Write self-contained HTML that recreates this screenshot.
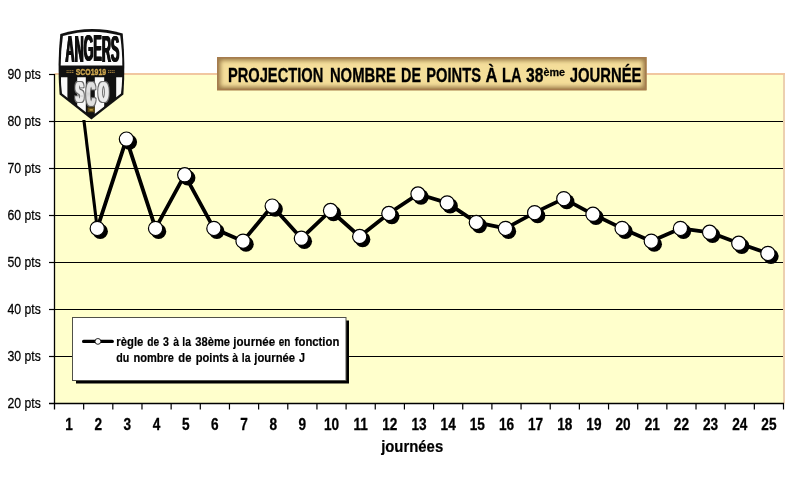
<!DOCTYPE html>
<html lang="fr"><head><meta charset="utf-8"><title>Projection nombre de points à la 38ème journée</title>
<style>html,body{margin:0;padding:0;background:#fff}body{width:788px;height:480px;overflow:hidden}svg{display:block}text{white-space:pre}</style>
</head><body>
<svg width="788" height="480" viewBox="0 0 788 480" font-family="'Liberation Sans', sans-serif">
<rect width="788" height="480" fill="#fff"/>
<rect x="54.5" y="73.00" width="730.50" height="330.50" fill="#ffffcc"/>
<rect x="54.5" y="73.00" width="730.50" height="2" fill="#f1c7a0"/>
<rect x="783.00" y="75.00" width="2" height="328.50" fill="#ecd0b0"/>
<line x1="54.5" x2="783.00" y1="356.50" y2="356.50" stroke="#000" stroke-width="1"/>
<line x1="54.5" x2="783.00" y1="309.50" y2="309.50" stroke="#000" stroke-width="1"/>
<line x1="54.5" x2="783.00" y1="262.50" y2="262.50" stroke="#000" stroke-width="1"/>
<line x1="54.5" x2="783.00" y1="215.50" y2="215.50" stroke="#000" stroke-width="1"/>
<line x1="54.5" x2="783.00" y1="168.50" y2="168.50" stroke="#000" stroke-width="1"/>
<line x1="54.5" x2="783.00" y1="121.50" y2="121.50" stroke="#000" stroke-width="1"/>
<line x1="54.5" x2="54.5" y1="74.00" y2="409.50" stroke="#000" stroke-width="1.3"/>
<line x1="49.0" x2="784.00" y1="403.5" y2="403.5" stroke="#000" stroke-width="1.3"/>
<line x1="49.0" x2="54.5" y1="356.50" y2="356.50" stroke="#000" stroke-width="1.2"/>
<line x1="49.0" x2="54.5" y1="309.50" y2="309.50" stroke="#000" stroke-width="1.2"/>
<line x1="49.0" x2="54.5" y1="262.50" y2="262.50" stroke="#000" stroke-width="1.2"/>
<line x1="49.0" x2="54.5" y1="215.50" y2="215.50" stroke="#000" stroke-width="1.2"/>
<line x1="49.0" x2="54.5" y1="168.50" y2="168.50" stroke="#000" stroke-width="1.2"/>
<line x1="49.0" x2="54.5" y1="121.50" y2="121.50" stroke="#000" stroke-width="1.2"/>
<line x1="49.0" x2="54.5" y1="74.50" y2="74.50" stroke="#000" stroke-width="1.2"/>
<line x1="83.66" x2="83.66" y1="403.5" y2="409.5" stroke="#000" stroke-width="1.2"/>
<line x1="112.82" x2="112.82" y1="403.5" y2="409.5" stroke="#000" stroke-width="1.2"/>
<line x1="141.98" x2="141.98" y1="403.5" y2="409.5" stroke="#000" stroke-width="1.2"/>
<line x1="171.14" x2="171.14" y1="403.5" y2="409.5" stroke="#000" stroke-width="1.2"/>
<line x1="200.30" x2="200.30" y1="403.5" y2="409.5" stroke="#000" stroke-width="1.2"/>
<line x1="229.46" x2="229.46" y1="403.5" y2="409.5" stroke="#000" stroke-width="1.2"/>
<line x1="258.62" x2="258.62" y1="403.5" y2="409.5" stroke="#000" stroke-width="1.2"/>
<line x1="287.78" x2="287.78" y1="403.5" y2="409.5" stroke="#000" stroke-width="1.2"/>
<line x1="316.94" x2="316.94" y1="403.5" y2="409.5" stroke="#000" stroke-width="1.2"/>
<line x1="346.10" x2="346.10" y1="403.5" y2="409.5" stroke="#000" stroke-width="1.2"/>
<line x1="375.26" x2="375.26" y1="403.5" y2="409.5" stroke="#000" stroke-width="1.2"/>
<line x1="404.42" x2="404.42" y1="403.5" y2="409.5" stroke="#000" stroke-width="1.2"/>
<line x1="433.58" x2="433.58" y1="403.5" y2="409.5" stroke="#000" stroke-width="1.2"/>
<line x1="462.74" x2="462.74" y1="403.5" y2="409.5" stroke="#000" stroke-width="1.2"/>
<line x1="491.90" x2="491.90" y1="403.5" y2="409.5" stroke="#000" stroke-width="1.2"/>
<line x1="521.06" x2="521.06" y1="403.5" y2="409.5" stroke="#000" stroke-width="1.2"/>
<line x1="550.22" x2="550.22" y1="403.5" y2="409.5" stroke="#000" stroke-width="1.2"/>
<line x1="579.38" x2="579.38" y1="403.5" y2="409.5" stroke="#000" stroke-width="1.2"/>
<line x1="608.54" x2="608.54" y1="403.5" y2="409.5" stroke="#000" stroke-width="1.2"/>
<line x1="637.70" x2="637.70" y1="403.5" y2="409.5" stroke="#000" stroke-width="1.2"/>
<line x1="666.86" x2="666.86" y1="403.5" y2="409.5" stroke="#000" stroke-width="1.2"/>
<line x1="696.02" x2="696.02" y1="403.5" y2="409.5" stroke="#000" stroke-width="1.2"/>
<line x1="725.18" x2="725.18" y1="403.5" y2="409.5" stroke="#000" stroke-width="1.2"/>
<line x1="754.34" x2="754.34" y1="403.5" y2="409.5" stroke="#000" stroke-width="1.2"/>
<line x1="783.50" x2="783.50" y1="403.5" y2="409.5" stroke="#000" stroke-width="1.2"/>
<g font-size="15.1" font-weight="normal" fill="#000" stroke="#000" stroke-width="0.25"><text transform="translate(7.50,408.40) scale(0.8132,1)">20 </text><text transform="translate(24.60,408.40) scale(0.8063,1)">pts</text></g>
<g font-size="15.1" font-weight="normal" fill="#000" stroke="#000" stroke-width="0.25"><text transform="translate(7.50,361.40) scale(0.8132,1)">30 </text><text transform="translate(24.60,361.40) scale(0.8063,1)">pts</text></g>
<g font-size="15.1" font-weight="normal" fill="#000" stroke="#000" stroke-width="0.25"><text transform="translate(7.50,314.40) scale(0.8132,1)">40 </text><text transform="translate(24.60,314.40) scale(0.8063,1)">pts</text></g>
<g font-size="15.1" font-weight="normal" fill="#000" stroke="#000" stroke-width="0.25"><text transform="translate(7.50,267.40) scale(0.8132,1)">50 </text><text transform="translate(24.60,267.40) scale(0.8063,1)">pts</text></g>
<g font-size="15.1" font-weight="normal" fill="#000" stroke="#000" stroke-width="0.25"><text transform="translate(7.50,220.40) scale(0.8132,1)">60 </text><text transform="translate(24.60,220.40) scale(0.8063,1)">pts</text></g>
<g font-size="15.1" font-weight="normal" fill="#000" stroke="#000" stroke-width="0.25"><text transform="translate(7.50,173.40) scale(0.8132,1)">70 </text><text transform="translate(24.60,173.40) scale(0.8063,1)">pts</text></g>
<g font-size="15.1" font-weight="normal" fill="#000" stroke="#000" stroke-width="0.25"><text transform="translate(7.50,126.40) scale(0.8132,1)">80 </text><text transform="translate(24.60,126.40) scale(0.8063,1)">pts</text></g>
<g font-size="15.1" font-weight="normal" fill="#000" stroke="#000" stroke-width="0.25"><text transform="translate(7.50,79.40) scale(0.8132,1)">90 </text><text transform="translate(24.60,79.40) scale(0.8063,1)">pts</text></g>
<text transform="translate(65.29,430.20) scale(0.8300,1)" font-size="16.4" font-weight="bold" fill="#000" stroke="#000" stroke-width="0.3">1</text>
<text transform="translate(94.45,430.20) scale(0.8300,1)" font-size="16.4" font-weight="bold" fill="#000" stroke="#000" stroke-width="0.3">2</text>
<text transform="translate(123.61,430.20) scale(0.8300,1)" font-size="16.4" font-weight="bold" fill="#000" stroke="#000" stroke-width="0.3">3</text>
<text transform="translate(152.77,430.20) scale(0.8300,1)" font-size="16.4" font-weight="bold" fill="#000" stroke="#000" stroke-width="0.3">4</text>
<text transform="translate(181.93,430.20) scale(0.8300,1)" font-size="16.4" font-weight="bold" fill="#000" stroke="#000" stroke-width="0.3">5</text>
<text transform="translate(211.09,430.20) scale(0.8300,1)" font-size="16.4" font-weight="bold" fill="#000" stroke="#000" stroke-width="0.3">6</text>
<text transform="translate(240.25,430.20) scale(0.8300,1)" font-size="16.4" font-weight="bold" fill="#000" stroke="#000" stroke-width="0.3">7</text>
<text transform="translate(269.41,430.20) scale(0.8300,1)" font-size="16.4" font-weight="bold" fill="#000" stroke="#000" stroke-width="0.3">8</text>
<text transform="translate(298.57,430.20) scale(0.8300,1)" font-size="16.4" font-weight="bold" fill="#000" stroke="#000" stroke-width="0.3">9</text>
<text transform="translate(323.93,430.20) scale(0.8300,1)" font-size="16.4" font-weight="bold" fill="#000" stroke="#000" stroke-width="0.3">10</text>
<text transform="translate(353.51,430.20) scale(0.8300,1)" font-size="16.4" font-weight="bold" fill="#000" stroke="#000" stroke-width="0.3">11</text>
<text transform="translate(382.25,430.20) scale(0.8300,1)" font-size="16.4" font-weight="bold" fill="#000" stroke="#000" stroke-width="0.3">12</text>
<text transform="translate(411.41,430.20) scale(0.8300,1)" font-size="16.4" font-weight="bold" fill="#000" stroke="#000" stroke-width="0.3">13</text>
<text transform="translate(440.57,430.20) scale(0.8300,1)" font-size="16.4" font-weight="bold" fill="#000" stroke="#000" stroke-width="0.3">14</text>
<text transform="translate(469.73,430.20) scale(0.8300,1)" font-size="16.4" font-weight="bold" fill="#000" stroke="#000" stroke-width="0.3">15</text>
<text transform="translate(498.89,430.20) scale(0.8300,1)" font-size="16.4" font-weight="bold" fill="#000" stroke="#000" stroke-width="0.3">16</text>
<text transform="translate(528.05,430.20) scale(0.8300,1)" font-size="16.4" font-weight="bold" fill="#000" stroke="#000" stroke-width="0.3">17</text>
<text transform="translate(557.21,430.20) scale(0.8300,1)" font-size="16.4" font-weight="bold" fill="#000" stroke="#000" stroke-width="0.3">18</text>
<text transform="translate(586.37,430.20) scale(0.8300,1)" font-size="16.4" font-weight="bold" fill="#000" stroke="#000" stroke-width="0.3">19</text>
<text transform="translate(615.53,430.20) scale(0.8300,1)" font-size="16.4" font-weight="bold" fill="#000" stroke="#000" stroke-width="0.3">20</text>
<text transform="translate(644.69,430.20) scale(0.8300,1)" font-size="16.4" font-weight="bold" fill="#000" stroke="#000" stroke-width="0.3">21</text>
<text transform="translate(673.85,430.20) scale(0.8300,1)" font-size="16.4" font-weight="bold" fill="#000" stroke="#000" stroke-width="0.3">22</text>
<text transform="translate(703.01,430.20) scale(0.8300,1)" font-size="16.4" font-weight="bold" fill="#000" stroke="#000" stroke-width="0.3">23</text>
<text transform="translate(732.17,430.20) scale(0.8300,1)" font-size="16.4" font-weight="bold" fill="#000" stroke="#000" stroke-width="0.3">24</text>
<text transform="translate(761.33,430.20) scale(0.8300,1)" font-size="16.4" font-weight="bold" fill="#000" stroke="#000" stroke-width="0.3">25</text>
<text transform="translate(381.14,452.00) scale(0.9079,1)" font-size="16.4" font-weight="bold" fill="#000" stroke="#000" stroke-width="0.2">journées</text>
<clipPath id="cp"><rect x="54.5" y="120" width="733.00" height="283.5"/></clipPath>
<g clip-path="url(#cp)">
<g transform="translate(3,3)">
<circle cx="97.24" cy="228.40" r="7.7" fill="#000"/>
<circle cx="126.40" cy="139.10" r="7.7" fill="#000"/>
<circle cx="155.56" cy="228.40" r="7.7" fill="#000"/>
<circle cx="184.72" cy="174.82" r="7.7" fill="#000"/>
<circle cx="213.88" cy="228.40" r="7.7" fill="#000"/>
<circle cx="243.04" cy="241.16" r="7.7" fill="#000"/>
<circle cx="272.20" cy="206.08" r="7.7" fill="#000"/>
<circle cx="301.36" cy="238.32" r="7.7" fill="#000"/>
<circle cx="330.52" cy="210.54" r="7.7" fill="#000"/>
<circle cx="359.68" cy="236.52" r="7.7" fill="#000"/>
<circle cx="388.84" cy="213.52" r="7.7" fill="#000"/>
<circle cx="418.00" cy="194.05" r="7.7" fill="#000"/>
<circle cx="447.16" cy="202.89" r="7.7" fill="#000"/>
<circle cx="476.32" cy="222.45" r="7.7" fill="#000"/>
<circle cx="505.48" cy="228.40" r="7.7" fill="#000"/>
<circle cx="534.64" cy="212.64" r="7.7" fill="#000"/>
<circle cx="563.80" cy="198.63" r="7.7" fill="#000"/>
<circle cx="592.96" cy="214.30" r="7.7" fill="#000"/>
<circle cx="622.12" cy="228.40" r="7.7" fill="#000"/>
<circle cx="651.28" cy="241.16" r="7.7" fill="#000"/>
<circle cx="680.44" cy="228.40" r="7.7" fill="#000"/>
<circle cx="709.60" cy="232.28" r="7.7" fill="#000"/>
<circle cx="738.76" cy="243.28" r="7.7" fill="#000"/>
<circle cx="767.92" cy="253.40" r="7.7" fill="#000"/>
</g>
<path d="M97.24,228.40 L126.40,139.10 L155.56,228.40 L184.72,174.82 L213.88,228.40 L243.04,241.16 L272.20,206.08 L301.36,238.32 L330.52,210.54 L359.68,236.52 L388.84,213.52 L418.00,194.05 L447.16,202.89 L476.32,222.45 L505.48,228.40 L534.64,212.64 L563.80,198.63 L592.96,214.30 L622.12,228.40 L651.28,241.16 L680.44,228.40 L709.60,232.28 L738.76,243.28 L767.92,253.40" fill="none" stroke="#000" stroke-width="3.8" stroke-linejoin="round"/>
<path d="M67.78,-10.71 L97.24,228.40" fill="none" stroke="#000" stroke-width="3.1"/>
<circle cx="97.24" cy="228.40" r="7.1" fill="#fff" stroke="#000" stroke-width="1.2"/>
<circle cx="126.40" cy="139.10" r="7.1" fill="#fff" stroke="#000" stroke-width="1.2"/>
<circle cx="155.56" cy="228.40" r="7.1" fill="#fff" stroke="#000" stroke-width="1.2"/>
<circle cx="184.72" cy="174.82" r="7.1" fill="#fff" stroke="#000" stroke-width="1.2"/>
<circle cx="213.88" cy="228.40" r="7.1" fill="#fff" stroke="#000" stroke-width="1.2"/>
<circle cx="243.04" cy="241.16" r="7.1" fill="#fff" stroke="#000" stroke-width="1.2"/>
<circle cx="272.20" cy="206.08" r="7.1" fill="#fff" stroke="#000" stroke-width="1.2"/>
<circle cx="301.36" cy="238.32" r="7.1" fill="#fff" stroke="#000" stroke-width="1.2"/>
<circle cx="330.52" cy="210.54" r="7.1" fill="#fff" stroke="#000" stroke-width="1.2"/>
<circle cx="359.68" cy="236.52" r="7.1" fill="#fff" stroke="#000" stroke-width="1.2"/>
<circle cx="388.84" cy="213.52" r="7.1" fill="#fff" stroke="#000" stroke-width="1.2"/>
<circle cx="418.00" cy="194.05" r="7.1" fill="#fff" stroke="#000" stroke-width="1.2"/>
<circle cx="447.16" cy="202.89" r="7.1" fill="#fff" stroke="#000" stroke-width="1.2"/>
<circle cx="476.32" cy="222.45" r="7.1" fill="#fff" stroke="#000" stroke-width="1.2"/>
<circle cx="505.48" cy="228.40" r="7.1" fill="#fff" stroke="#000" stroke-width="1.2"/>
<circle cx="534.64" cy="212.64" r="7.1" fill="#fff" stroke="#000" stroke-width="1.2"/>
<circle cx="563.80" cy="198.63" r="7.1" fill="#fff" stroke="#000" stroke-width="1.2"/>
<circle cx="592.96" cy="214.30" r="7.1" fill="#fff" stroke="#000" stroke-width="1.2"/>
<circle cx="622.12" cy="228.40" r="7.1" fill="#fff" stroke="#000" stroke-width="1.2"/>
<circle cx="651.28" cy="241.16" r="7.1" fill="#fff" stroke="#000" stroke-width="1.2"/>
<circle cx="680.44" cy="228.40" r="7.1" fill="#fff" stroke="#000" stroke-width="1.2"/>
<circle cx="709.60" cy="232.28" r="7.1" fill="#fff" stroke="#000" stroke-width="1.2"/>
<circle cx="738.76" cy="243.28" r="7.1" fill="#fff" stroke="#000" stroke-width="1.2"/>
<circle cx="767.92" cy="253.40" r="7.1" fill="#fff" stroke="#000" stroke-width="1.2"/>
</g>
<rect x="76" y="320.5" width="273" height="63" fill="#000"/>
<rect x="72.5" y="317.5" width="273.5" height="63" fill="#fff" stroke="#505048" stroke-width="1"/>
<line x1="83.6" x2="112.3" y1="341.4" y2="341.4" stroke="#000" stroke-width="3.2" stroke-linecap="round"/>
<circle cx="97.9" cy="341.4" r="2.9" fill="#fff" stroke="#222" stroke-width="1"/>
<g font-size="13.5" font-weight="bold" fill="#000" stroke="#000" stroke-width="0.2"><text transform="translate(116.35,345.80) scale(0.8357,1)">règle </text><text transform="translate(147.20,345.80) scale(0.7556,1)">de </text><text transform="translate(163.10,345.80) scale(0.7867,1)">3 </text><text transform="translate(173.20,345.80) scale(0.7738,1)">à </text><text transform="translate(182.30,345.80) scale(0.7736,1)">la </text><text transform="translate(195.30,345.80) scale(0.8262,1)">38ème </text><text transform="translate(233.31,345.80) scale(0.8571,1)">journée </text><text transform="translate(278.70,345.80) scale(0.7365,1)">en </text><text transform="translate(294.70,345.80) scale(0.8394,1)">fonction</text></g>
<g font-size="13.5" font-weight="bold" fill="#000" stroke="#000" stroke-width="0.2"><text transform="translate(116.35,361.60) scale(0.7909,1)">du </text><text transform="translate(133.40,361.60) scale(0.8202,1)">nombre </text><text transform="translate(178.30,361.60) scale(0.8317,1)">de </text><text transform="translate(195.70,361.60) scale(0.8247,1)">points </text><text transform="translate(232.35,361.60) scale(0.7803,1)">à </text><text transform="translate(241.85,361.60) scale(0.7692,1)">la </text><text transform="translate(254.31,361.60) scale(0.8367,1)">journée </text><text transform="translate(299.00,361.60) scale(0.8000,1)">J</text></g>
<defs><filter id="bl" x="-10%" y="-30%" width="120%" height="160%"><feGaussianBlur stdDeviation="2.2"/></filter>
<clipPath id="tb"><rect x="217" y="57" width="429.5" height="33.3"/></clipPath></defs>
<rect x="217" y="57" width="429.5" height="33.3" fill="#f4de9a"/>
<g clip-path="url(#tb)"><rect x="217" y="57" width="429.5" height="33.3" fill="none" stroke="#9c7c4a" stroke-width="7" filter="url(#bl)"/></g>
<rect x="217.75" y="57.75" width="428" height="31.8" fill="none" stroke="#a67c4e" stroke-width="1.5"/>
<g font-size="19.4" font-weight="bold" fill="#000" stroke="#000" stroke-width="0.3"><text transform="translate(227.90,81.80) scale(0.7570,1)">PROJECTION </text><text transform="translate(329.90,81.80) scale(0.7653,1)">NOMBRE </text><text transform="translate(401.10,81.80) scale(0.7395,1)">DE </text><text transform="translate(426.30,81.80) scale(0.7574,1)">POINTS </text><text transform="translate(485.60,81.80) scale(0.8560,1)">À </text><text transform="translate(502.10,81.80) scale(0.7565,1)">LA </text><text transform="translate(526.00,81.80) scale(0.8083,1)">38</text></g>
<text transform="translate(543.40,75.90) scale(0.9310,1)" font-size="11.6" font-weight="bold" fill="#000" stroke="#000" stroke-width="0.25">ème</text>
<text transform="translate(569.70,81.80) scale(0.7659,1)" font-size="19.4" font-weight="bold" fill="#000" stroke="#000" stroke-width="0.3">JOURNÉE</text>
<g id="logo">
<path d="M60.3,34 Q91.5,24.3 122.7,33.5 Q125.6,64 123.4,94.6 L91.4,119.4 L59.6,94.6 Q57.2,64 60.3,34 Z" fill="#111"/>
<path d="M62.9,36 Q91.5,27.6 120.2,35.6 Q122.4,52 122.3,65.6 L60.7,65.6 Q60.6,52 62.9,36 Z" fill="#fdfdfd"/>
<clipPath id="lw"><path d="M60.8,77.3 L122.2,77.3 Q122.0,86 121.0,93.4 L91.4,116.4 L62.0,93.4 Q60.9,86 60.8,76.6 Z"/></clipPath>
<g clip-path="url(#lw)">
<rect x="58" y="76" width="68" height="44" fill="#111"/>
<rect x="61" y="76" width="6.40" height="44" fill="#fafafa"/>
<rect x="77.2" y="76" width="8.60" height="44" fill="#fafafa"/>
<rect x="94.8" y="76" width="9.40" height="44" fill="#fafafa"/>
<rect x="116.2" y="76" width="6.80" height="44" fill="#fafafa"/>
</g>
<rect x="87.6" y="107.4" width="7.2" height="4.8" fill="#5e4a14"/><rect x="89.6" y="109.2" width="3.2" height="1.4" fill="#c9a648"/>
<g filter="url(#d3)"><text transform="translate(65.10,62.3) scale(1.2561,3.6337)" font-size="10" font-weight="bold" fill="#111" y="0 -0.18 -0.32 -0.32 -0.18 0">ANGERS</text></g>
<text transform="translate(75.70,74.7) scale(0.7077,1)" font-size="9.8" font-weight="bold" fill="#d0a850" stroke="#d0a850" stroke-width="0.35">SCO1919</text>
<line x1="66.5" x2="74" y1="70.7" y2="70.7" stroke="#b08a42" stroke-width="0.9" stroke-dasharray="1.3 0.5"/>
<line x1="66.5" x2="74" y1="72.5" y2="72.5" stroke="#b08a42" stroke-width="0.9" stroke-dasharray="1.3 0.5"/>
<line x1="108" x2="115" y1="70.7" y2="70.7" stroke="#b08a42" stroke-width="0.9" stroke-dasharray="1.3 0.5"/>
<line x1="108" x2="115" y1="72.5" y2="72.5" stroke="#b08a42" stroke-width="0.9" stroke-dasharray="1.3 0.5"/>
<defs><filter id="d1" x="-30%" y="-30%" width="160%" height="160%"><feMorphology operator="dilate" radius="2 1"/></filter><filter id="d2" x="-30%" y="-30%" width="160%" height="160%"><feMorphology operator="dilate" radius="1 0"/></filter><filter id="d3" x="-10%" y="-10%" width="120%" height="120%"><feOffset in="SourceGraphic" dx="0.5" result="a"/><feOffset in="SourceGraphic" dx="-0.5" result="b"/><feMerge><feMergeNode in="a"/><feMergeNode in="b"/><feMergeNode in="SourceGraphic"/></feMerge></filter></defs>
<g filter="url(#d1)"><text transform="translate(75.70,102.26) scale(0.3750,0.9788)" font-size="30" font-weight="bold" fill="#6a6a6a">S</text></g>
<g filter="url(#d2)"><text transform="translate(75.70,102.26) scale(0.3750,0.9788)" font-size="30" font-weight="bold" fill="#ebebeb">S</text></g>
<g filter="url(#d1)"><text transform="translate(86.80,105.61) scale(0.3792,1.1718)" font-size="30" font-weight="bold" fill="#6a6a6a">C</text></g>
<g filter="url(#d2)"><text transform="translate(86.80,105.61) scale(0.3792,1.1718)" font-size="30" font-weight="bold" fill="#e0e0e0">C</text></g>
<g filter="url(#d1)"><text transform="translate(98.70,102.26) scale(0.4064,0.9788)" font-size="30" font-weight="bold" fill="#6a6a6a">O</text></g>
<g filter="url(#d2)"><text transform="translate(98.70,102.26) scale(0.4064,0.9788)" font-size="30" font-weight="bold" fill="#ebebeb">O</text></g>
</g>
</svg>
</body></html>
